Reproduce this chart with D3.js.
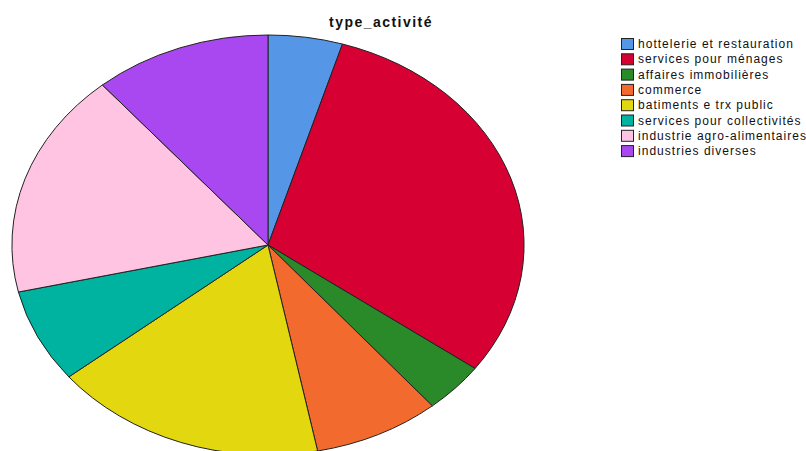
<!DOCTYPE html>
<html>
<head>
<meta charset="utf-8">
<script src="https://cdn.jsdelivr.net/npm/d3@7"></script>
<style>
  html, body { margin: 0; padding: 0; background: #fff; }
  svg { display: block; font-family: "Liberation Sans", Arial, sans-serif; }
</style>
</head>
<body>
<svg id="chart" width="806" height="451"></svg>
<script>
// Activity categories and their shares (percent)
const categories = [
  "hottelerie et restauration",
  "services pour ménages",
  "affaires immobilières",
  "commerce",
  "batiments e trx public",
  "services pour collectivités",
  "industrie agro-alimentaires",
  "industries diverses"
];
const values = [4.7, 30.3, 3.9, 8.0, 17.3, 7.2, 17.4, 11.2];
const colors = ["#5596E6", "#D70032", "#2A8A2A", "#F36A2F", "#E3D70F", "#00B2A0", "#FFC4E2", "#A948F0"];
const title = "type_activité";

const svg = d3.select("#chart");

// Elliptical pie: unit-radius arcs stretched horizontally and vertically
const cx = 268, cy = 245, rx = 256, ry = 210;

const pie = d3.pie().value(d => d).sort(null);
const arc = d3.arc().innerRadius(0).outerRadius(1);

const g = svg.append("g")
  .attr("transform", `translate(${cx},${cy}) scale(${rx},${ry})`);

g.selectAll("path")
  .data(pie(values))
  .join("path")
  .attr("d", arc)
  .attr("fill", (d, i) => colors[i])
  .attr("stroke", "#222")
  .attr("stroke-width", 1)
  .attr("vector-effect", "non-scaling-stroke");

// Widen a text element with letter-spacing so it spans a given width
function spreadTo(sel, width) {
  const node = sel.node();
  const n = node.getNumberOfChars();
  const w = node.getComputedTextLength();
  if (w < width && n > 1) sel.attr("letter-spacing", ((width - w) / n).toFixed(2) + "px");
}

// Title
const titleText = svg.append("text")
  .attr("x", 381)
  .attr("y", 27)
  .attr("text-anchor", "middle")
  .attr("font-size", 14)
  .attr("font-weight", "bold")
  .attr("fill", "#111")
  .text(title);
spreadTo(titleText, 104);

// Legend
const legend = svg.append("g").attr("transform", "translate(621,38)");
const step = 15.3;
const items = legend.selectAll("g")
  .data(categories)
  .join("g")
  .attr("transform", (d, i) => `translate(0,${i * step})`);

items.append("rect")
  .attr("x", 0.5).attr("y", 0.5)
  .attr("width", 12).attr("height", 11)
  .attr("fill", (d, i) => colors[i])
  .attr("stroke", "#222")
  .attr("stroke-width", 1);

const labels = items.append("text")
  .attr("x", 17)
  .attr("y", 10)
  .attr("font-size", 12)
  .attr("fill", "#111")
  .text(d => d);

// Same spacing for all legend entries, set from the first one
const first = labels.filter((d, i) => i === 0);
const w0 = first.node().getComputedTextLength();
const ls = ((156 - w0) / first.node().getNumberOfChars()).toFixed(2) + "px";
labels.attr("letter-spacing", ls);
</script>
</body>
</html>
